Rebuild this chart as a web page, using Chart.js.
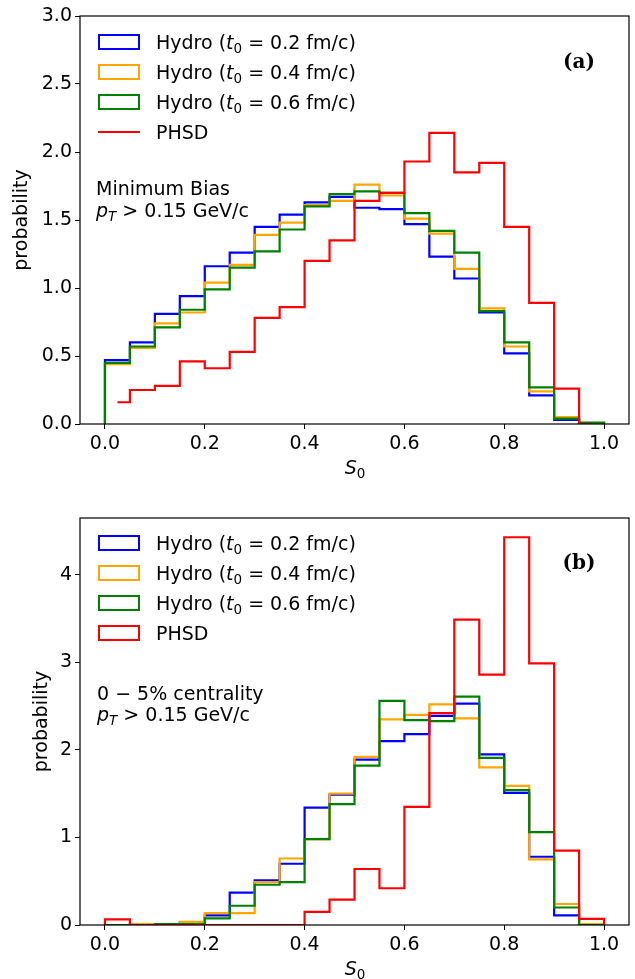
<!DOCTYPE html>
<html><head><meta charset="utf-8">
<script src="https://cdn.jsdelivr.net/npm/chart.js@4.4.1/dist/chart.umd.min.js"></script>
<style>
html,body{margin:0;padding:0;background:#fff;}
body{width:635px;height:979px;position:relative;overflow:hidden;font-family:"DejaVu Sans",sans-serif;}
.panel{position:absolute;left:0;width:635px;}
.panel canvas{position:absolute;left:0;top:0;}
.txt{position:absolute;font-size:19px;line-height:22px;height:22px;color:#000;white-space:nowrap;}
.patch{position:absolute;box-sizing:border-box;border:2px solid;width:42px;height:16px;left:98px;}
.hline{position:absolute;height:2px;width:42px;left:98px;}
.tag{position:absolute;width:70px;text-align:center;font-family:"DejaVu Serif",serif;font-weight:bold;font-size:20px;line-height:24px;color:#000;}
.xt{position:absolute;width:60px;left:325px;text-align:center;}
sub{font-size:13.5px;vertical-align:-4px;line-height:0;}
</style></head>
<body>
<div class="panel" style="top:0;height:490px;"><canvas id="cA" width="635" height="490"></canvas></div>
<div class="panel" style="top:490px;height:489px;"><canvas id="cB" width="635" height="489"></canvas></div>

<!-- legend (a) -->
<div class="patch" style="top:34px;border-color:#0000ff"></div>
<div class="txt" style="left:156px;top:31px">Hydro (<i>t</i><sub>0</sub> = 0.2 fm/c)</div>
<div class="patch" style="top:64px;border-color:#ffa500"></div>
<div class="txt" style="left:156px;top:61px">Hydro (<i>t</i><sub>0</sub> = 0.4 fm/c)</div>
<div class="patch" style="top:94px;border-color:#008000"></div>
<div class="txt" style="left:156px;top:91px">Hydro (<i>t</i><sub>0</sub> = 0.6 fm/c)</div>
<div class="hline" style="top:131px;background:#ff0000"></div>
<div class="txt" style="left:156px;top:121px">PHSD</div>
<div class="txt" style="left:96px;top:177px">Minimum Bias</div>
<div class="txt" style="left:96px;top:199px"><i>p</i><sub><i>T</i></sub> &gt; 0.15 GeV/c</div>
<div class="tag" style="left:544px;top:49px">(a)</div>
<div class="txt xt" style="top:456px"><i>S</i><sub>0</sub></div>

<!-- legend (b) -->
<div class="patch" style="top:535px;border-color:#0000ff"></div>
<div class="txt" style="left:156px;top:532px">Hydro (<i>t</i><sub>0</sub> = 0.2 fm/c)</div>
<div class="patch" style="top:565px;border-color:#ffa500"></div>
<div class="txt" style="left:156px;top:562px">Hydro (<i>t</i><sub>0</sub> = 0.4 fm/c)</div>
<div class="patch" style="top:595px;border-color:#008000"></div>
<div class="txt" style="left:156px;top:592px">Hydro (<i>t</i><sub>0</sub> = 0.6 fm/c)</div>
<div class="patch" style="top:625px;border-color:#ff0000"></div>
<div class="txt" style="left:156px;top:622px">PHSD</div>
<div class="txt" style="left:97px;top:682px">0 − 5% centrality</div>
<div class="txt" style="left:97px;top:703px"><i>p</i><sub><i>T</i></sub> &gt; 0.15 GeV/c</div>
<div class="tag" style="left:544px;top:550px">(b)</div>
<div class="txt xt" style="top:957px"><i>S</i><sub>0</sub></div>

<script>
// ---------- data ----------
const binEdges = [0.00,0.05,0.10,0.15,0.20,0.25,0.30,0.35,0.40,0.45,0.50,0.55,0.60,0.65,0.70,0.75,0.80,0.85,0.90,0.95,1.00];

// panel (a): minimum bias
const mbHydro02 = [0.47,0.60,0.81,0.94,1.16,1.26,1.45,1.54,1.63,1.67,1.59,1.58,1.47,1.23,1.07,0.82,0.52,0.21,0.03,0.005];
const mbHydro04 = [0.44,0.56,0.74,0.82,1.04,1.17,1.39,1.48,1.61,1.64,1.76,1.68,1.51,1.40,1.14,0.85,0.57,0.24,0.05,0.005];
const mbHydro06 = [0.45,0.57,0.71,0.84,0.99,1.15,1.27,1.43,1.60,1.69,1.71,1.70,1.55,1.42,1.26,0.83,0.60,0.27,0.04,0.01];
const mbPHSD    = [0.16,0.25,0.28,0.46,0.41,0.53,0.78,0.86,1.20,1.35,1.64,1.70,1.93,2.14,1.85,1.92,1.45,0.89,0.26,0.00];

// panel (b): 0-5% centrality
const cHydro02 = [0.00,0.005,0.01,0.03,0.11,0.37,0.51,0.70,1.34,1.49,1.89,2.10,2.18,2.39,2.53,1.95,1.51,0.78,0.11,0.00];
const cHydro04 = [0.00,0.01,0.01,0.035,0.135,0.135,0.49,0.76,0.98,1.50,1.92,2.35,2.40,2.52,2.36,1.80,1.59,0.75,0.24,0.01];
const cHydro06 = [0.00,0.00,0.01,0.01,0.075,0.22,0.46,0.49,0.98,1.38,1.82,2.56,2.34,2.33,2.61,1.91,1.54,1.06,0.20,0.00];
const cPHSD    = [0.065,0,0,0,0,0,0,0,0.15,0.29,0.64,0.42,1.35,2.42,3.49,2.86,4.43,2.99,0.85,0.07];

const seriesLabels = ['Hydro (t0 = 0.2 fm/c)','Hydro (t0 = 0.4 fm/c)','Hydro (t0 = 0.6 fm/c)','PHSD'];

const xTicks = [0,0.2,0.4,0.6,0.8,1.0];
const xTickLabels = ['0.0','0.2','0.4','0.6','0.8','1.0'];
const yTicksA = [0,0.5,1.0,1.5,2.0,2.5,3.0];
const yTickLabelsA = ['0.0','0.5','1.0','1.5','2.0','2.5','3.0'];
const yTicksB = [0,1,2,3,4];
const yTickLabelsB = ['0','1','2','3','4'];

// ---------- helpers ----------
function histStep(values){
  const pts = [{x: binEdges[0], y: 0}];
  values.forEach((v,i) => pts.push({x: binEdges[i], y: v}));
  pts.push({x: binEdges[binEdges.length-1], y: 0});
  return pts;
}
function midStep(values){
  return values.map((v,i) => ({x: (binEdges[i]+binEdges[i+1])/2, y: v}));
}

const FONT = 'DejaVu Sans';
const COLORS = ['#0000ff','#ffa500','#008000','#ff0000'];

const framePlugin = {
  id: 'frame',
  afterDatasetsDraw(chart){
    const {ctx, chartArea: a} = chart;
    ctx.save();
    ctx.strokeStyle = '#000';
    ctx.lineWidth = 1.2;
    ctx.strokeRect(a.left, a.top, a.right - a.left, a.bottom - a.top);
    ctx.restore();
  }
};

function ds(label, data, color, stepped, order){
  return {label, data, borderColor: color, backgroundColor: color, borderWidth: 2.2,
          pointRadius: 0, fill: false, stepped, order, tension: 0};
}

function makeChart(id, datasets, yMax, yTicks, yLabels, o){
  return new Chart(document.getElementById(id), {
    type: 'line',
    data: { datasets },
    options: {
      responsive: false, animation: false, devicePixelRatio: 1,
      parsing: false, normalized: true,
      layout: { padding: { top: o.top, right: 6, bottom: 0, left: 0 } },
      plugins: { legend: { display: false }, tooltip: { enabled: false } },
      scales: {
        x: {
          type: 'linear', min: -0.05, max: 1.05,
          afterBuildTicks: s => { s.ticks = xTicks.map(v => ({value: v})); },
          afterFit: s => { s.height = o.xh; },
          ticks: { callback: (v, i) => xTickLabels[i], color: '#000', font: {family: FONT, size: 19},
                   autoSkip: false, maxRotation: 0, padding: 4 },
          grid: { drawOnChartArea: false, drawTicks: true, tickLength: 5, color: '#000', lineWidth: 1 },
          border: { display: false },
          title: { display: false }
        },
        y: {
          type: 'linear', min: 0, max: yMax,
          afterBuildTicks: s => { s.ticks = yTicks.map(v => ({value: v})); },
          afterFit: s => { s.width = 80; },
          ticks: { callback: (v, i) => yLabels[i], color: '#000', font: {family: FONT, size: 19},
                   autoSkip: false, padding: 3 },
          grid: { drawOnChartArea: false, drawTicks: true, tickLength: 5, color: '#000', lineWidth: 1 },
          border: { display: false },
          title: { display: true, text: 'probability', color: '#000',
                   font: {family: FONT, size: 19}, padding: {top: o.ytp, bottom: 0} }
        }
      }
    },
    plugins: [framePlugin]
  });
}

makeChart('cA', [
  ds(seriesLabels[0], histStep(mbHydro02), COLORS[0], true, 4),
  ds(seriesLabels[1], histStep(mbHydro04), COLORS[1], true, 3),
  ds(seriesLabels[2], histStep(mbHydro06), COLORS[2], true, 2),
  ds(seriesLabels[3], midStep(mbPHSD), COLORS[3], 'middle', 1)
], 3.0, yTicksA, yTickLabelsA, {top: 16, xh: 66, ytp: 10.6});

makeChart('cB', [
  ds(seriesLabels[0], histStep(cHydro02), COLORS[0], true, 4),
  ds(seriesLabels[1], histStep(cHydro04), COLORS[1], true, 3),
  ds(seriesLabels[2], histStep(cHydro06), COLORS[2], true, 2),
  ds(seriesLabels[3], histStep(cPHSD), COLORS[3], true, 1)
], 4.65, yTicksB, yTickLabelsB, {top: 28, xh: 54, ytp: 30.6});
</script>
</body></html>
